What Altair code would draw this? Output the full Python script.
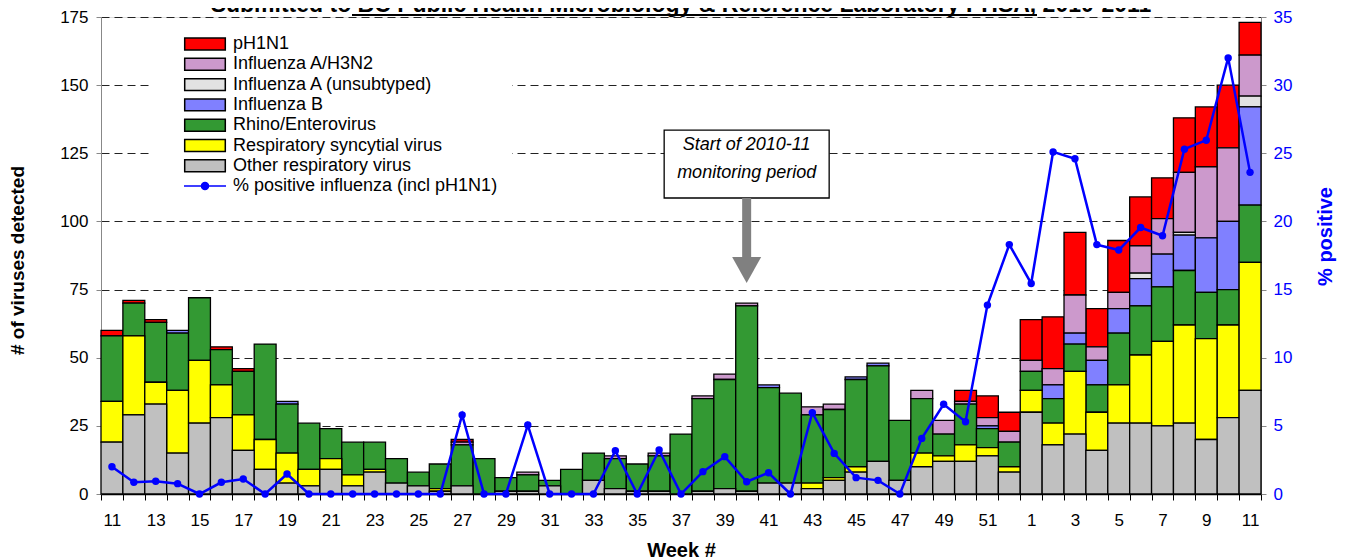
import altair as alt
import pandas as pd

# ---------------- data ----------------
weeks_2010 = [11, 12, 13, 14, 15, 16, 17, 18, 19, 20, 21, 22, 23, 24, 25, 26, 27, 28, 29, 30,
              31, 32, 33, 34, 35, 36, 37, 38, 39, 40, 41, 42, 43, 44, 45, 46, 47, 48, 49, 50, 51, 52]
weeks_2011 = [1, 2, 3, 4, 5, 6, 7, 8, 9, 10, 11]
week_keys = [f"2010-{w}" for w in weeks_2010] + [f"2011-{w}" for w in weeks_2011]

series_names = ["pH1N1", "Influenza A/H3N2", "Influenza A (unsubtyped)", "Influenza B",
                "Rhino/Enterovirus", "Respiratory syncytial virus", "Other respiratory virus"]
line_name = "% positive influenza (incl pH1N1)"
series_colors = ["#ff0000", "#cc99cc", "#e2e2e2", "#8080ff", "#339933", "#ffff00", "#c0c0c0"]

other = [19, 29, 33, 15, 26, 28, 16, 9, 4, 3, 9, 3, 8, 4, 3, 1, 3, 0, 1, 1,
         3, 0, 5, 2, 1, 1, 0, 1, 2, 1, 4, 4, 2, 5, 8, 12, 5, 10, 12, 12, 14, 8,
         30, 18, 22, 16, 26, 26, 25, 26, 20, 28, 38]
rsv = [15, 29, 8, 23, 23, 12, 13, 11, 11, 6, 4, 4, 1, 0, 0, 1, 0, 0, 0, 0,
       0, 0, 0, 0, 0, 0, 0, 0, 0, 0, 0, 0, 2, 1, 2, 0, 0, 5, 2, 6, 3, 2,
       8, 8, 23, 14, 14, 25, 31, 36, 37, 34, 47]
rhino = [24, 12, 22, 21, 23, 13, 16, 35, 18, 17, 11, 12, 10, 9, 5, 9, 15, 13, 5, 6,
         2, 9, 10, 11, 10, 13, 22, 34, 40, 68, 35, 33, 25, 25, 32, 35, 22, 20, 8, 15, 7, 9,
         7, 9, 10, 10, 19, 18, 20, 20, 17, 13, 21]
flu_b = [0, 0, 0, 1, 0, 0, 0, 0, 1, 0, 0, 0, 0, 0, 0, 0, 0, 0, 0, 0,
         0, 0, 0, 0, 0, 0, 0, 0, 0, 0, 1, 0, 0, 0, 1, 1, 0, 0, 0, 0, 1, 0,
         0, 5, 4, 9, 9, 10, 12, 13, 20, 25, 36]
flu_a_unsub = [0, 0, 0, 0, 0, 0, 0, 0, 0, 0, 0, 0, 0, 0, 0, 0, 0, 0, 0, 0,
               0, 0, 0, 0, 0, 0, 0, 0, 0, 0, 0, 0, 0, 0, 0, 0, 0, 0, 0, 0, 0, 0,
               0, 0, 0, 0, 0, 2, 0, 1, 0, 0, 4]
h3n2 = [0, 0, 0, 0, 0, 0, 0, 0, 0, 0, 0, 0, 0, 0, 0, 0, 1, 0, 0, 1,
        0, 0, 0, 1, 0, 1, 0, 1, 2, 1, 0, 0, 3, 2, 0, 0, 0, 3, 5, 1, 3, 4,
        4, 6, 14, 5, 6, 10, 13, 22, 26, 27, 15]
ph1n1 = [2, 1, 1, 0, 0, 1, 1, 0, 0, 0, 0, 0, 0, 0, 0, 0, 1, 0, 0, 0,
         0, 0, 0, 0, 0, 0, 0, 0, 0, 0, 0, 0, 0, 0, 0, 0, 0, 0, 0, 4, 8, 7,
         15, 19, 23, 14, 19, 18, 15, 20, 22, 23, 12]
pct_positive = [2.0, 0.86, 0.93, 0.76, 0, 0.86, 1.1, 0, 1.47, 0, 0, 0, 0, 0, 0, 0, 5.8, 0, 0, 5.06,
                0, 0, 0, 3.18, 0, 3.23, 0, 1.64, 2.74, 0.9, 1.56, 0, 5.97, 2.98, 1.2, 1.0, 0, 4.08, 6.58, 5.3,
                13.86, 18.3, 15.45, 25.1, 24.6, 18.3, 17.9, 19.55, 18.95, 25.3, 25.96, 32.0, 23.6]

title_text = "Submitted to BC Public Health Microbiology & Reference Laboratory PHSA, 2010-2011"
annotation_lines = ["Start of 2010-11", "monitoring period"]
monitor_start_key = "2010-40"

# ---------------- tables ----------------
series_values = [ph1n1, h3n2, flu_a_unsub, flu_b, rhino, rsv, other]
rows = []
for s_idx, (name, vals) in enumerate(zip(series_names, series_values)):
    stack_pos = len(series_names) - 1 - s_idx  # Other at bottom, pH1N1 on top
    for key, v in zip(week_keys, vals):
        rows.append({"key": key, "series": name, "value": v, "order": stack_pos})
bars_df = pd.DataFrame(rows)
line_df = pd.DataFrame({"key": week_keys, "pct": pct_positive})

legend_names = series_names + [line_name]
legend_df = pd.DataFrame({"series": legend_names})

FONT = "Liberation Sans"
BLUE = "#0000ff"

rect_path = "M-2.9,-0.85H2.9V0.85H-2.9Z"
line_path = "M-3,0H3M0.5,0A0.5,0.5 0 1 1 -0.5,0A0.5,0.5 0 1 1 0.5,0"

fill_scale = alt.Scale(domain=legend_names, range=series_colors + [BLUE])
stroke_scale = alt.Scale(domain=legend_names, range=["#000000"] * 7 + [BLUE])
shape_scale = alt.Scale(domain=legend_names, range=[rect_path] * 7 + [line_path])

legend_def = alt.Legend(
    title=None, orient="none", legendX=50, legendY=4,
    padding=14, fillColor="white", symbolSize=196, symbolOffset=31,
    labelOffset=19, labelFontSize=18, labelFont=FONT, labelColor="black",
    rowPadding=2.3, symbolStrokeWidth=1.5, labelLimit=400,
)

x_enc = alt.X(
    "key:N", sort=week_keys,
    scale=alt.Scale(domain=week_keys, paddingInner=0, paddingOuter=0),
    axis=alt.Axis(
        title="Week #", labelAngle=0, tickBand="extent", labelOverlap=False,
        labelExpr="toNumber(split(datum.value, '-')[1]) % 2 == 1 ? split(datum.value, '-')[1] : ''",
        labelFontSize=17, labelPadding=12, tickSize=6, domainColor="black", tickColor="black",
        domainWidth=1.5, titleFontSize=20, titleFontWeight="bold", titleY=62,
        titleBaseline="alphabetic",
    ),
)

left_y_scale = alt.Scale(domain=[0, 175], nice=False)
left_axis = alt.Axis(values=[0, 25, 50, 75, 100, 125, 150, 175], title="# of viruses detected",
                     grid=True, gridDash=[8, 5], gridColor="#222", gridWidth=1,
                     labelFontSize=17, labelPadding=8, tickSize=5,
                     domainColor="#888", tickColor="#888",
                     titleFontSize=19, titleFontWeight="bold", titleAngle=270,
                     titleX=-84, titleY=243, titleAlign="center", titleBaseline="middle")


def left_y(field):
    return alt.Y(field, scale=left_y_scale, axis=left_axis, title="# of viruses detected")


bars = alt.Chart(bars_df).transform_filter("datum.value > 0").mark_bar(
    stroke="black", strokeWidth=1.3
).encode(
    x=x_enc,
    y=alt.Y("value:Q", stack="zero", scale=left_y_scale, axis=left_axis, title="# of viruses detected"),
    fill=alt.Fill("series:N", scale=fill_scale, legend=legend_def),
    order=alt.Order("order:Q", sort="ascending"),
)

anno_box_df = pd.DataFrame({"key": [monitor_start_key], "value": [133.5], "value2": [108.6]})
anno_shaft_df = pd.DataFrame({"key": [monitor_start_key], "value": [108.6], "value2": [86.0]})
anno_head_df = pd.DataFrame({"key": [monitor_start_key], "value": [82.2]})
anno_text_df = pd.DataFrame({"key": [monitor_start_key] * 2, "value": [128.0, 117.8],
                             "label": annotation_lines})

box = alt.Chart(anno_box_df).mark_bar(width=165, fill="white", stroke="black", strokeWidth=1.3).encode(
    x=alt.X("key:N"), y=left_y("value:Q"), y2="value2:Q")
shaft = alt.Chart(anno_shaft_df).mark_bar(width=9, color="#808080").encode(
    x=alt.X("key:N"), y=left_y("value:Q"), y2="value2:Q")
head = alt.Chart(anno_head_df).mark_point(
    shape="M-1,-0.9L1,-0.9L0,0.9Z", size=841, filled=True, color="#808080", opacity=1
).encode(x=alt.X("key:N"), y=left_y("value:Q"))
texts = alt.Chart(anno_text_df).mark_text(
    fontStyle="italic", fontSize=18, font=FONT, baseline="middle", align="center", color="black"
).encode(x=alt.X("key:N"), y=left_y("value:Q"), text="label:N")

title_df = pd.DataFrame({"label": [title_text]})
title_mark = alt.Chart(title_df).mark_text(
    fontSize=23, fontWeight="bold", font=FONT, align="center", baseline="alphabetic", color="black"
).encode(x=alt.value(580), y=alt.value(-5), text="label:N")
underline = alt.Chart(title_df).mark_rule(color="black", strokeWidth=2).encode(
    x=alt.value(251), x2=alt.value(936), y=alt.value(-2))

left_layer = alt.layer(bars, box, shaft, head, texts, title_mark, underline)

right_y = alt.Y("pct:Q", scale=alt.Scale(domain=[0, 35], nice=False),
                axis=alt.Axis(orient="right", values=[0, 5, 10, 15, 20, 25, 30, 35], title="% positive",
                              grid=False, labelColor=BLUE, titleColor=BLUE, labelFontSize=17,
                              labelPadding=7, tickSize=5, domainColor="#888", tickColor="#888",
                              titleFontSize=20, titleFontWeight="bold", titleAngle=270,
                              titleX=64, titleY=219, titleAlign="center", titleBaseline="middle"))
line = alt.Chart(line_df).mark_line(color=BLUE, strokeWidth=2.5).encode(x=alt.X("key:N"), y=right_y)
points = alt.Chart(line_df).mark_circle(color=BLUE, size=55, opacity=1).encode(x=alt.X("key:N"), y=right_y)
right_layer = alt.layer(line, points)

legend_layer = alt.Chart(legend_df).transform_filter("false").mark_point(
    filled=True, opacity=1, strokeWidth=1.5
).encode(
    fill=alt.Fill("series:N", scale=fill_scale, legend=legend_def),
    stroke=alt.Stroke("series:N", scale=stroke_scale, legend=legend_def),
    shape=alt.Shape("series:N", scale=shape_scale, legend=legend_def),
)

chart = alt.layer(left_layer, right_layer, legend_layer).resolve_scale(
    y="independent"
).properties(
    width=1160, height=477,
    padding={"left": 93, "top": 9, "right": 76, "bottom": 65},
    autosize=alt.AutoSizeParams(type="none"),
).configure_view(stroke=None).configure(font=FONT)

chart.save("out.html", embed_options={"renderer": "svg", "actions": False})
